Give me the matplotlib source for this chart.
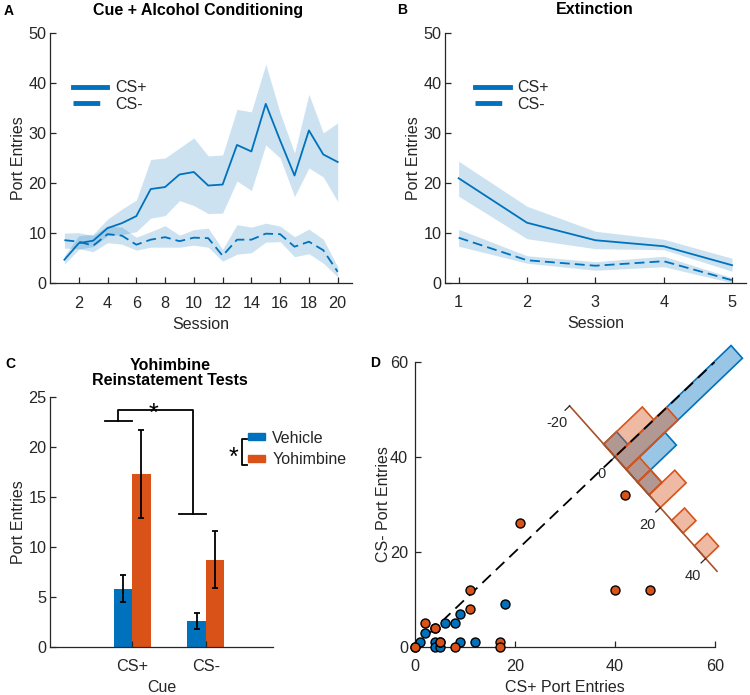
import numpy as np
import matplotlib
matplotlib.use("Agg")
import matplotlib.pyplot as plt
from matplotlib.patches import Patch, Polygon

plt.rcParams["font.family"] = ["Liberation Sans", "DejaVu Sans"]

BLUE = "#0072BD"
ORANGE = "#D95319"
GREY = "#262626"

# A: cue + alcohol conditioning (mean and sem band)
sessions_a = np.arange(1, 21)
csp_a = [4.7, 8.0, 8.5, 11.0, 12.0, 13.4, 18.8, 19.2, 21.7, 22.2,
         19.5, 19.7, 27.6, 26.3, 35.8, 28.5, 21.5, 30.5, 25.7, 24.2]
csp_a_lo = [3.8, 6.8, 7.3, 9.5, 9.7, 10.3, 13.0, 13.5, 16.5, 15.5,
            13.9, 14.0, 20.4, 18.5, 27.6, 25.0, 17.3, 23.0, 21.2, 16.3]
csp_a_hi = [5.5, 9.5, 9.8, 12.8, 14.8, 16.6, 24.7, 25.0, 27.0, 29.0,
            25.4, 25.6, 34.7, 34.2, 43.7, 34.0, 26.0, 37.7, 30.0, 32.0]
csm_a = [8.6, 8.3, 7.5, 9.8, 9.5, 7.7, 8.7, 9.2, 8.4, 9.1,
         9.0, 5.5, 8.7, 8.7, 9.9, 9.8, 7.3, 8.3, 6.6, 2.3]
csm_a_lo = [7.0, 6.9, 6.3, 8.1, 7.8, 6.6, 7.2, 7.2, 7.2, 7.6,
            7.2, 4.4, 5.8, 6.1, 8.2, 8.3, 5.3, 5.9, 4.0, 1.3]
csm_a_hi = [10.0, 10.1, 9.5, 11.5, 11.2, 9.2, 10.3, 11.5, 9.6, 10.7,
            11.0, 6.8, 11.7, 11.2, 12.0, 11.4, 9.3, 10.8, 8.8, 3.3]

# B: extinction
sessions_b = np.arange(1, 6)
csp_b = [20.9, 12.0, 8.5, 7.3, 3.5]
csp_b_lo = [17.3, 8.8, 6.8, 6.6, 2.3]
csp_b_hi = [24.3, 15.3, 10.3, 8.7, 4.9]
csm_b = [9.0, 4.5, 3.4, 4.3, 0.5]
csm_b_lo = [7.3, 3.9, 2.5, 3.2, 0.0]
csm_b_hi = [10.7, 5.4, 4.2, 5.3, 1.0]

# C: reinstatement tests
cues = ["CS+", "CS-"]
veh_mean = [5.8, 2.6]
veh_sem = [1.35, 0.8]
yoh_mean = [17.3, 8.7]
yoh_sem = [4.4, 2.85]

# D: individual port entries
veh_plus = [0, 1, 2, 4, 4, 4, 5, 5, 6, 8, 9, 9, 12, 18]
veh_minus = [0, 1, 3, 4, 1, 0, 0, 1, 5, 5, 7, 1, 1, 9]
yoh_plus = [0, 2, 4, 5, 8, 11, 11, 17, 17, 21, 40, 42, 47]
yoh_minus = [0, 5, 4, 1, 0, 8, 12, 1, 0, 26, 12, 32, 12]
hist_bins = np.arange(-20, 45, 5)
hist_ticks = [-20, 0, 20, 40]

fig = plt.figure(figsize=(7.5, 6.95), dpi=100)
axA = fig.add_axes([0.0667, 0.5924, 0.4027, 0.3606])
axB = fig.add_axes([0.5933, 0.5932, 0.4010, 0.3597])
axC = fig.add_axes([0.0667, 0.0695, 0.2977, 0.3597])
axD = fig.add_axes([0.5533, 0.0691, 0.4000, 0.4105])


def style(ax, ypad=2.5):
    for s in ["top", "right"]:
        ax.spines[s].set_visible(False)
    for s in ["left", "bottom"]:
        ax.spines[s].set_color(GREY)
        ax.spines[s].set_linewidth(0.9)
    ax.tick_params(direction="in", length=4, width=0.9, color=GREY,
                   labelcolor=GREY, labelsize=11.7)
    ax.tick_params(axis="x", pad=9)
    ax.tick_params(axis="y", pad=ypad)


def line_panel(ax, x, p, plo, phi, m, mlo, mhi):
    ax.fill_between(x, plo, phi, color=BLUE, alpha=0.2, lw=0)
    ax.fill_between(x, mlo, mhi, color=BLUE, alpha=0.2, lw=0)
    ax.plot(x, p, color=BLUE, lw=1.3, label="CS+")
    ax.plot(x, m, color=BLUE, lw=1.3, ls=(0, (5.5, 2.8)), label="CS-")
    ax.set_ylim(0, 50)
    ax.set_yticks(range(0, 51, 10))
    ax.set_xlabel("Session", fontsize=11.5, color=GREY, labelpad=4.5)
    ax.set_ylabel("Port Entries", fontsize=11.5, color=GREY, labelpad=2)
    style(ax)


# A
line_panel(axA, sessions_a, csp_a, csp_a_lo, csp_a_hi, csm_a, csm_a_lo, csm_a_hi)
axA.set_xlim(0, 21)
axA.set_xticks(range(2, 21, 2))
legA = axA.legend(loc="upper left", bbox_to_anchor=(0.075, 0.81), frameon=False,
                  fontsize=11.5, handlelength=2.17, handletextpad=0.48,
                  labelspacing=0.1, borderpad=0, borderaxespad=0)
for ln in legA.get_lines():
    ln.set_linewidth(3.5)
for t in legA.get_texts():
    t.set_color(GREY)

# B
line_panel(axB, sessions_b, csp_b, csp_b_lo, csp_b_hi, csm_b, csm_b_lo, csm_b_hi)
axB.set_xlim(0.8, 5.2)
axB.set_xticks(sessions_b)
legB = axB.legend(loc="upper left", bbox_to_anchor=(0.1, 0.81), frameon=False,
                  fontsize=11.5, handlelength=2.17, handletextpad=0.48,
                  labelspacing=0.1, borderpad=0, borderaxespad=0)
for ln in legB.get_lines():
    ln.set_linewidth(3.5)
for t in legB.get_texts():
    t.set_color(GREY)

# C
xc = np.arange(1, len(cues) + 1)
bw = 0.25
axC.bar(xc - bw / 2, veh_mean, bw, color=BLUE, label="Vehicle")
axC.bar(xc + bw / 2, yoh_mean, bw, color=ORANGE, label="Yohimbine")
axC.errorbar(xc - bw / 2, veh_mean, yerr=veh_sem, fmt="none", ecolor="black",
             elinewidth=1.3, capsize=2, capthick=1.3)
axC.errorbar(xc + bw / 2, yoh_mean, yerr=yoh_sem, fmt="none", ecolor="black",
             elinewidth=1.3, capsize=2, capthick=1.3)
axC.set_xlim(-0.12, 2.92)
axC.set_ylim(0, 25)
axC.set_xticks(xc)
axC.set_xticklabels(cues)
axC.set_yticks(range(0, 26, 5))
axC.set_xlabel("Cue", fontsize=11.5, color=GREY, labelpad=4.5)
axC.set_ylabel("Port Entries", fontsize=11.5, color=GREY, labelpad=2)
style(axC)
# significance brackets
bk = dict(color="black", lw=1.3, clip_on=False)
axC.plot([0.63, 1.0], [22.55, 22.55], **bk)
axC.plot([0.81, 0.81, 1.82, 1.82], [22.55, 23.7, 23.7, 13.3], **bk)
axC.plot([1.64, 2.01], [13.3, 13.3], **bk)
axC.text(1.295, 23.3, "*", fontsize=18, ha="center", va="center")
legC = axC.legend(handles=[Patch(color=BLUE, label="Vehicle"),
                           Patch(color=ORANGE, label="Yohimbine")],
                  loc="upper left", bbox_to_anchor=(0.888, 0.864), frameon=False,
                  fontsize=11.5, handlelength=1.06, handleheight=0.3,
                  handletextpad=0.45, labelspacing=0.4, borderpad=0,
                  borderaxespad=0)
for t in legC.get_texts():
    t.set_color(GREY)
axC.plot([0.88, 0.858, 0.858, 0.88], [0.83, 0.83, 0.727, 0.727],
         transform=axC.transAxes, color="black", lw=1.3, clip_on=False)
axC.text(0.82, 0.755, "*", transform=axC.transAxes, fontsize=18,
         ha="center", va="center")

# D
origin = np.array([40.0, 40.0])
u = np.array([0.4535, -0.535])   # along histogram axis, per unit of difference
w = np.array([2.58, 2.60])       # along bars, per count
for xs, ys, col in [(veh_plus, veh_minus, BLUE), (yoh_plus, yoh_minus, ORANGE)]:
    diff = np.array(xs) - np.array(ys)
    counts, edges = np.histogram(diff, bins=hist_bins)
    for c, lo, hi in zip(counts, edges[:-1], edges[1:]):
        if c == 0:
            continue
        p0 = origin + u * lo
        p1 = origin + u * hi
        corners = [p0, p1, p1 + w * c, p0 + w * c]
        axD.add_patch(Polygon(corners, closed=True, facecolor=col, alpha=0.4,
                              edgecolor="none", clip_on=False, zorder=2))
        axD.add_patch(Polygon(corners, closed=True, facecolor="none",
                              edgecolor=col, lw=1.2, clip_on=False, zorder=2))

AX_COL = "#A5522A"
a0 = origin + u * hist_bins[0]
a1 = origin + u * 45
axD.plot([a0[0], a1[0]], [a0[1], a1[1]], color=AX_COL, lw=1.2,
         clip_on=False, zorder=3)
wn = w / np.linalg.norm(w)
for tv in hist_ticks:
    p = origin + u * tv
    q = p - wn * 1.3
    axD.plot([p[0], q[0]], [p[1], q[1]], color=GREY, lw=0.9,
             clip_on=False, zorder=3)
    lab = p + np.array([-2.6, -3.6])
    axD.text(lab[0], lab[1], str(tv), fontsize=10.5, color=GREY,
             ha="center", va="center")

axD.plot([0, 60], [0, 60], color="black", lw=1.3, ls=(0, (6.5, 3.8)), zorder=4)
axD.scatter(veh_plus, veh_minus, s=42, color=BLUE, edgecolor="black",
            linewidth=1, clip_on=False, zorder=5)
axD.scatter(yoh_plus, yoh_minus, s=42, color=ORANGE, edgecolor="black",
            linewidth=1, clip_on=False, zorder=6)
axD.set_xlim(0, 60)
axD.set_ylim(0, 60)
axD.set_xticks(range(0, 61, 20))
axD.set_yticks(range(0, 61, 20))
axD.set_xlabel("CS+ Port Entries", fontsize=11.5, color=GREY, labelpad=4)
axD.set_ylabel("CS- Port Entries", fontsize=11.5, color=GREY, labelpad=-1)
style(axD, ypad=5)

# titles and panel letters
fig.text(198 / 750, 1 - 11 / 695, "Cue + Alcohol Conditioning", fontsize=11.5,
         fontweight="bold", ha="center", va="center")
fig.text(595 / 750, 1 - 9 / 695, "Extinction", fontsize=11.5,
         fontweight="bold", ha="center", va="center")
fig.text(170 / 750, 1 - 373 / 695, "Yohimbine\nReinstatement Tests",
         fontsize=11.5, fontweight="bold", ha="center", va="center",
         linespacing=1.05)
for letter, px, py in [("A", 9, 11), ("B", 402, 10), ("C", 10, 364), ("D", 375, 363)]:
    fig.text(px / 750, 1 - py / 695, letter, fontsize=10, fontweight="bold",
             ha="center", va="center")

fig.savefig("out.png", dpi=100)
